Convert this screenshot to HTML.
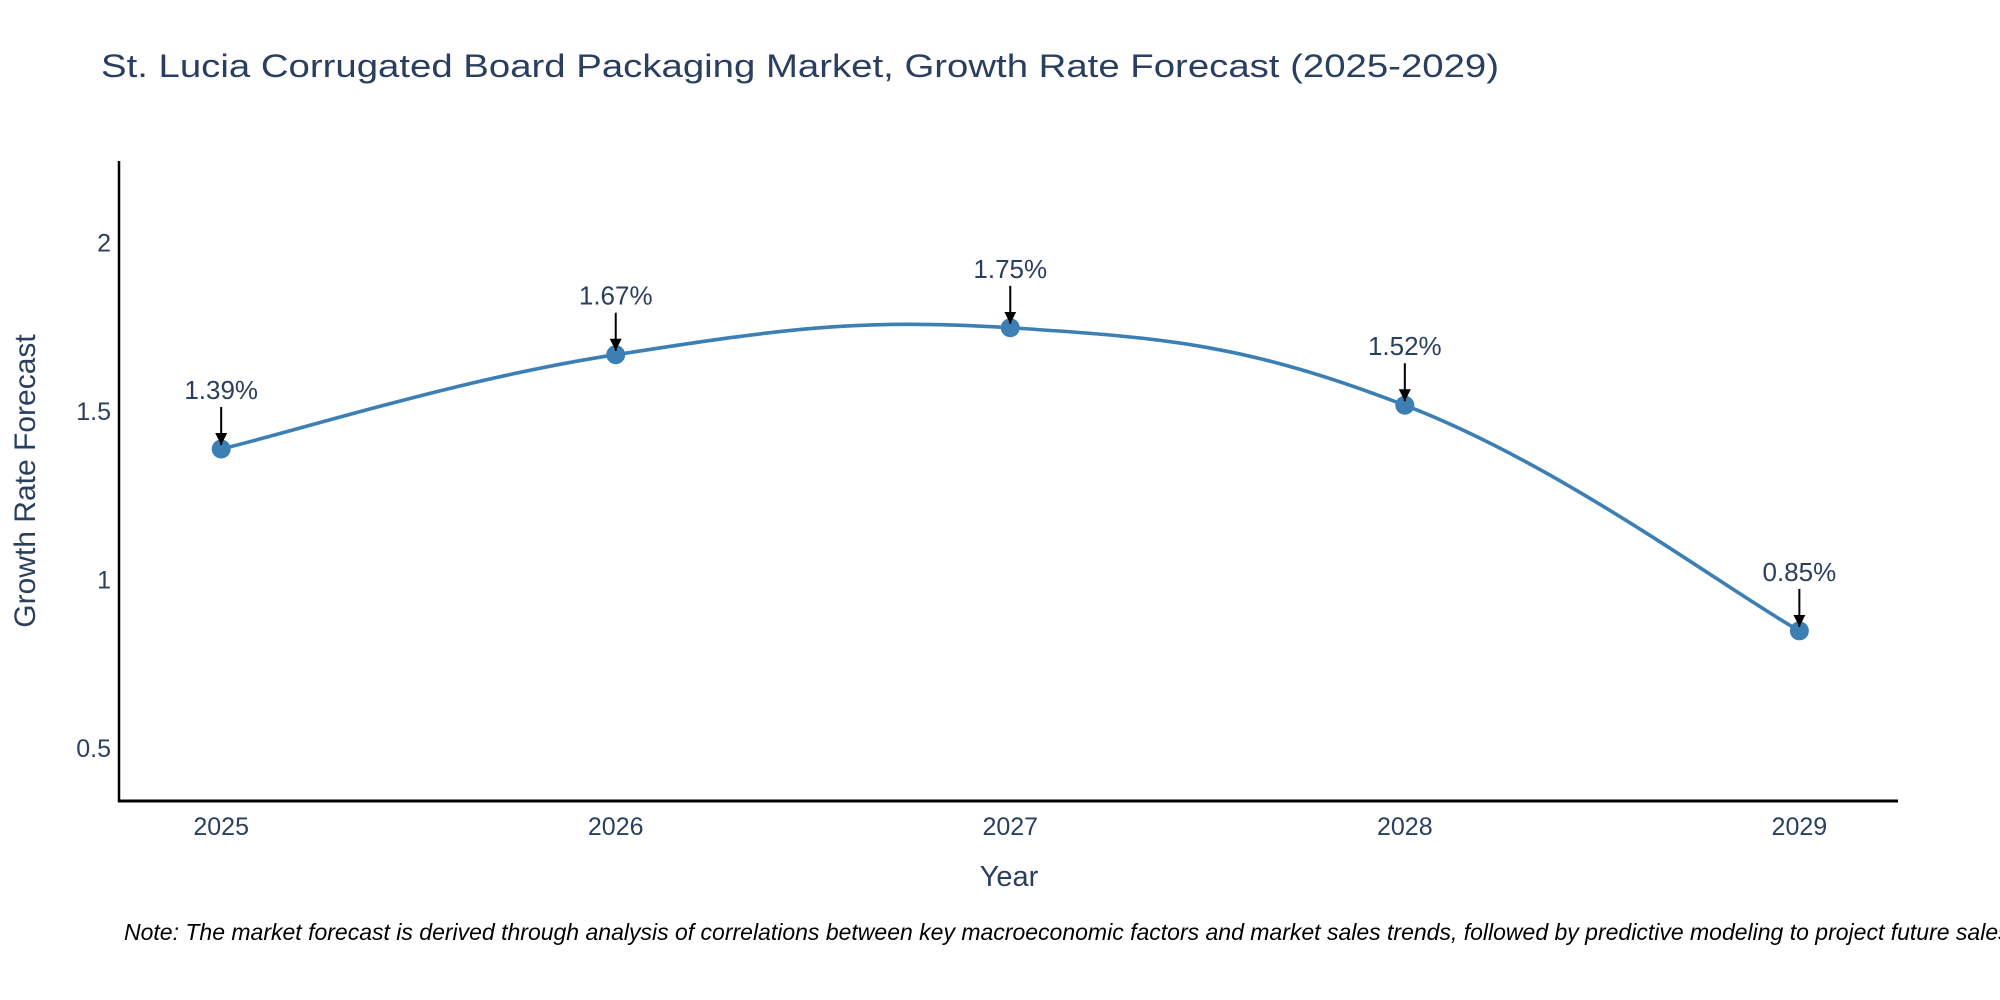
<!DOCTYPE html>
<html><head><meta charset="utf-8"><style>
html,body{margin:0;padding:0;background:#fff;}
svg{display:block;font-family:"Liberation Sans","DejaVu Sans",sans-serif;}
</style></head><body>
<svg id="chart" width="2000" height="1000" viewBox="0 0 2000 1000" xmlns="http://www.w3.org/2000/svg">
<rect width="2000" height="1000" fill="#fff"/>
<text x="101" y="77" font-size="32" fill="#2a3f5f" textLength="1398" lengthAdjust="spacingAndGlyphs">St. Lucia Corrugated Board Packaging Market, Growth Rate Forecast (2025-2029)</text>
<g id="yticks"></g><g id="xticks"></g>
<line x1="119" y1="161" x2="119" y2="802" stroke="#000" stroke-width="2.5"/>
<line x1="118" y1="801" x2="1898" y2="801" stroke="#000" stroke-width="3"/>
<path id="series" fill="none" stroke="#3b7fb4" stroke-width="3.6"/>
<g id="points"></g><g id="annos"></g>
<text transform="translate(35,481) rotate(-90)" text-anchor="middle" font-size="30" fill="#2a3f5f">Growth Rate Forecast</text>
<text x="1009" y="886" text-anchor="middle" font-size="29" fill="#2a3f5f">Year</text>
<text x="124" y="940" font-size="23" font-style="italic" fill="#000">Note: The market forecast is derived through analysis of correlations between key macroeconomic factors and market sales trends, followed by predictive modeling to project future sales.</text>
<defs><marker id="ah" viewBox="0 0 10 10" refX="10" refY="5" markerWidth="6" markerHeight="6" orient="auto"><path d="M0,0L10,5L0,10z" fill="#000"/></marker></defs>
</svg>
<script>
const years = [2025, 2026, 2027, 2028, 2029];
const values = [1.39, 1.67, 1.75, 1.52, 0.85];
const labels = ["1.39%", "1.67%", "1.75%", "1.52%", "0.85%"];
const yTicks = [0.5, 1, 1.5, 2];
const yTickLabels = ["0.5", "1", "1.5", "2"];

const NS = "http://www.w3.org/2000/svg";
const X0 = 2024.74, X1 = 2029.25, PL = 118.6, PR = 1898;
const Y0 = 0.345, Y1 = 2.246, PB = 801, PT = 160.7;
const xs = v => PL + (v - X0) / (X1 - X0) * (PR - PL);
const ys = v => PB - (v - Y0) / (Y1 - Y0) * (PB - PT);
function mk(tag, attrs, parent, txt) {
  const e = document.createElementNS(NS, tag);
  for (const k in attrs) e.setAttribute(k, attrs[k]);
  if (txt !== undefined) e.textContent = txt;
  document.getElementById(parent).appendChild(e);
  return e;
}
yTicks.forEach((t, i) => {
  const e = mk("text", {x: 111, y: ys(t) + 8, "text-anchor": "end", "font-size": 25, fill: "#2a3f5f"}, "yticks", yTickLabels[i]);
  
  
});
years.forEach(y => {
  const e = mk("text", {x: xs(y), y: 835, "text-anchor": "middle", "font-size": 25, fill: "#2a3f5f"}, "xticks", String(y));
  
  
});
const pts = years.map((y, i) => [xs(y), ys(values[i])]);
let d = "M" + pts[0][0] + "," + pts[0][1];
const k = 5;
for (let i = 0; i < pts.length - 1; i++) {
  const p0 = pts[Math.max(0, i - 1)], p1 = pts[i], p2 = pts[i + 1], p3 = pts[Math.min(pts.length - 1, i + 2)];
  const c1 = [p1[0] + (p2[0] - p0[0]) / k, p1[1] + (p2[1] - p0[1]) / k];
  const c2 = [p2[0] - (p3[0] - p1[0]) / k, p2[1] - (p3[1] - p1[1]) / k];
  d += " C" + c1 + " " + c2 + " " + p2;
}
document.getElementById("series").setAttribute("d", d);
pts.forEach((p, i) => {
  const c = mk("circle", {cx: p[0], cy: p[1], r: 9.5, fill: "#3b7fb4"}, "points");
  
  
  const a = mk("line", {x1: p[0], y1: p[1] - 42, x2: p[0], y2: p[1] - 4, stroke: "#000", "stroke-width": 2, "marker-end": "url(#ah)"}, "annos");
  
  
  const t = mk("text", {x: p[0], y: p[1] - 50, "text-anchor": "middle", "font-size": 26, fill: "#2a3f5f"}, "annos", labels[i]);
  
  
});
</script>
</body></html>
